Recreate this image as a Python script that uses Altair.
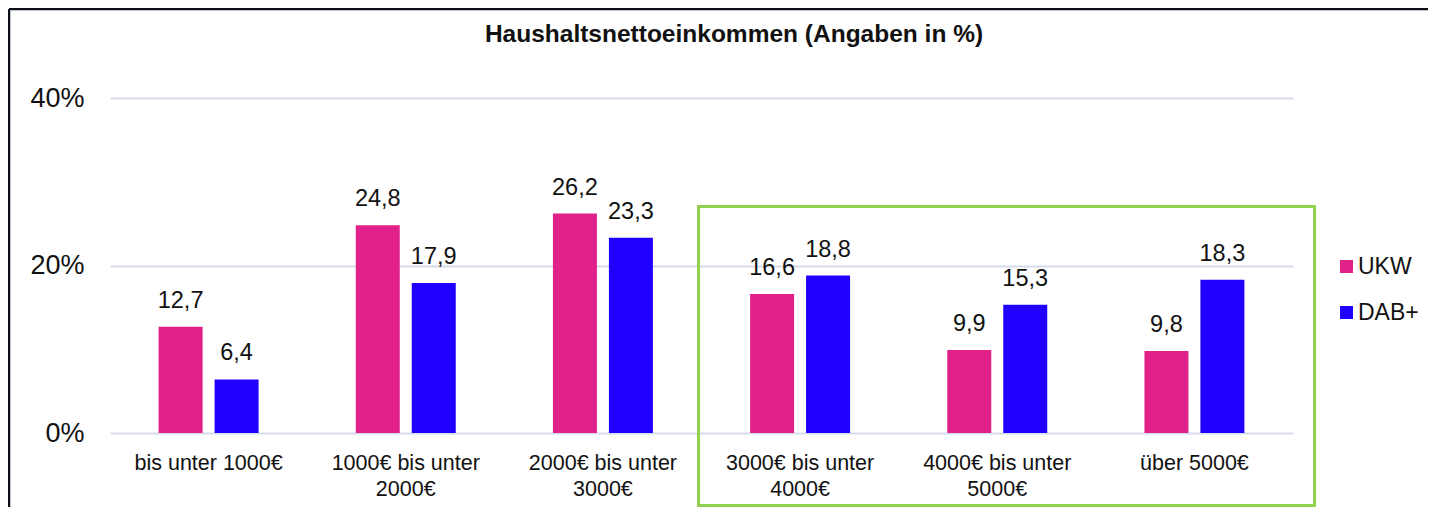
import altair as alt
import pandas as pd

categories = ["bis unter 1000€", "1000€ bis unter 2000€", "2000€ bis unter 3000€",
              "3000€ bis unter 4000€", "4000€ bis unter 5000€", "über 5000€"]
series = ["UKW", "DAB+"]
ukw = [12.7, 24.8, 26.2, 16.6, 9.9, 9.8]
dab = [6.4, 17.9, 23.3, 18.8, 15.3, 18.3]
colors = ["#E0218A", "#2000FF"]
y_ticks = [0, 20, 40]
title_text = "Haushaltsnettoeinkommen (Angaben in %)"

rows = []
for s, vals in zip(series, [ukw, dab]):
    for c, v in zip(categories, vals):
        rows.append({"cat": c, "series": s, "value": v,
                     "label": f"{v:.1f}".replace(".", ",")})
df = pd.DataFrame(rows)

FONT = "Liberation Sans"
TXT = "#111111"
W, H = 1183, 335

x_enc = alt.X(
    "cat:N", sort=categories,
    scale=alt.Scale(paddingInner=0, paddingOuter=0),
    axis=alt.Axis(
        title=None, labelAngle=0, domain=False, ticks=False, tickSize=0,
        labelPadding=19, labelFontSize=21.5, labelFont=FONT, labelColor=TXT,
        labelLineHeight=26, labelOverlap=False, labelBound=False,
        labelExpr="length(datum.value) > 16 ? [substring(datum.value, 0, 15), substring(datum.value, 16)] : datum.value",
    ),
)
xoff_enc = alt.XOffset("series:N", sort=series,
                       scale=alt.Scale(domain=series, paddingInner=0.214, paddingOuter=0.868))
y_enc = alt.Y(
    "value:Q",
    scale=alt.Scale(domain=[0, 40], nice=False),
    axis=alt.Axis(
        values=y_ticks, labelExpr="datum.value + '%'", title=None, domain=False,
        ticks=False, grid=True, gridColor="#D6DCEC", gridWidth=2,
        labelFontSize=27, labelPadding=26, labelColor=TXT, labelFont=FONT,
    ),
)

bars = alt.Chart(df).mark_bar().encode(
    x=x_enc, xOffset=xoff_enc, y=y_enc,
    color=alt.Color(
        "series:N", sort=series,
        scale=alt.Scale(domain=series, range=colors),
        legend=alt.Legend(
            title=None, orient="none", legendX=1225, legendY=157,
            symbolType="square", symbolSize=169, symbolStrokeWidth=0,
            labelFontSize=23, labelFont=FONT, labelColor=TXT, labelOffset=0,
            rowPadding=22, padding=0,
        ),
    ),
)

labels = alt.Chart(df).mark_text(
    dy=-19, baseline="alphabetic", align="center", fontSize=23.5, font=FONT, color=TXT
).encode(x=x_enc, xOffset=xoff_enc, y=y_enc, text="label:N")

one = pd.DataFrame({"k": [0]})

box = alt.Chart(one).mark_rect(
    filled=False, fillOpacity=0, stroke="#92D050", strokeWidth=3
).encode(x=alt.value(588.5), x2=alt.value(1204.5), y=alt.value(108.5), y2=alt.value(407.5))

frame_top = alt.Chart(one).mark_rule(color="#0A0F1A", strokeWidth=2.5).encode(
    x=alt.value(-101), x2=alt.value(1325), y=alt.value(-89))
frame_left = alt.Chart(one).mark_rule(color="#0A0F1A", strokeWidth=2.5).encode(
    x=alt.value(-101), y=alt.value(-89), y2=alt.value(420))

title = alt.Chart(one).mark_text(
    text=title_text, font=FONT, fontSize=24.5, fontWeight="bold", color=TXT,
    align="center", baseline="alphabetic"
).encode(x=alt.value(624), y=alt.value(-56))

chart = alt.layer(bars, labels, box, frame_top, frame_left, title).properties(
    width=W, height=H,
    autosize=alt.AutoSizeParams(type="none"),
    padding={"left": 102, "top": 90, "right": 135, "bottom": 74},
).configure_view(stroke=None, clip=False)

chart.save("out.html", embed_options={"renderer": "svg", "actions": False})
